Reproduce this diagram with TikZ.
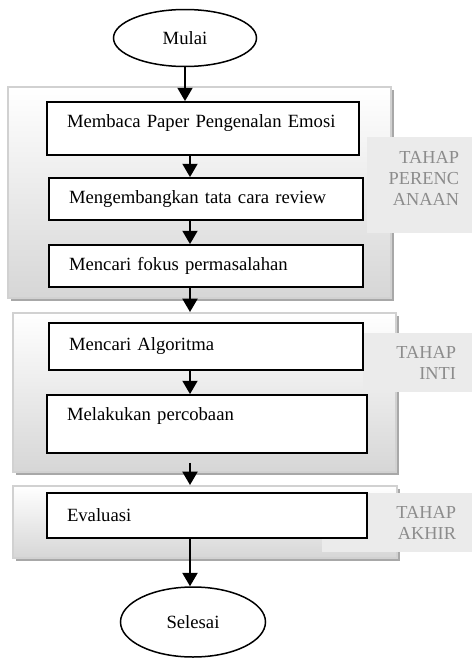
\documentclass[tikz,border=0pt]{standalone}
\usepackage{fontspec}
\setmainfont{Liberation Serif}
\usetikzlibrary{arrows.meta,shapes.geometric,shadows}
\begin{document}
\begin{tikzpicture}[x=0.6pt,y=-0.6pt,>={Triangle[width=9pt,length=8pt]},
        font=\fontsize{11.2}{13.4}\selectfont,
        tahap/.style={draw=black!18,line width=1.2pt,top color=white,bottom color=black!16,inner sep=0pt,
            drop shadow={shadow xshift=1.8pt,shadow yshift=-1.8pt,fill=black!34,opacity=1}},
        kotak/.style={draw,line width=1.1pt,fill=white,inner xsep=12pt,align=left},
        ket/.style={fill=black!8,text=black!45,align=right,inner ysep=0pt,font=\fontsize{11}{12.6}\selectfont},
        bulat/.style={draw,ellipse,line width=0.9pt,inner sep=0pt}]
                \useasboundingbox(0,0)rectangle(472,658);
                % kelompok tahap
                \node[tahap,minimum width=229.8pt,minimum height=126.6pt](g1)at(199.5,192.5){};
                \node[tahap,minimum width=229.8pt,minimum height=95.4pt](g2)at(204.5,392.5){};
                \node[tahap,minimum width=230.4pt,minimum height=43.2pt](g3)at(205,522){};
                \node[ket,text width=47.4pt,inner xsep=7.8pt,minimum height=57.6pt,text depth=33pt](t1)at(419.5,185){TAHAP\\PERENC\\ANAAN};
                \node[ket,text width=46.2pt,inner xsep=9.6pt,minimum height=35.4pt](t2)at(417.5,362.5){TAHAP\\INTI};
                \node[ket,text width=70.8pt,inner xsep=9.6pt,minimum height=35.4pt](t3)at(397,522.5){TAHAP\\AKHIR};
                % langkah
                \node[bulat,minimum width=85.8pt,minimum height=34.2pt](mulai)at(185,38){Mulai};
                \node[kotak,text width=163.2pt,minimum height=31.8pt,text depth=9pt](1)at(203,128.5){Membaca Paper Pengenalan Emosi};
                \node[kotak,text width=164.4pt,minimum height=25.2pt](2)at(206,199){Mengembangkan tata cara review};
                \node[kotak,text width=164.4pt,minimum height=25.2pt](3)at(206,266){Mencari fokus permasalahan};
                \node[kotak,text width=164.4pt,minimum height=28.2pt](4)at(206,346.5){Mencari Algoritma};
                \node[kotak,text width=168pt,minimum height=34.8pt,text depth=12pt](5)at(207,424){Melakukan percobaan};
                \node[kotak,text width=168pt,minimum height=27pt](6)at(207,515.5){Evaluasi};
                \node[bulat,minimum width=87pt,minimum height=42pt](selesai)at(193,622){Selesai};
                \coordinate(poros)at(190,0);
                \draw[->,line width=1.2pt](mulai.south)--(mulai.south|-1.north);
                \draw[->,line width=1.2pt](poros|-1.south)--(poros|-2.north);
                \draw[->,line width=1.2pt](poros|-2.south)--(poros|-3.north);
                \draw[->,line width=1.2pt](poros|-3.south)--(poros|-g2.north);
                \draw[->,line width=1.2pt](poros|-4.south)--(poros|-5.north);
                \draw[->,line width=1.2pt,shorten <=5.4pt](poros|-5.south)--(poros|-g3.north);
                \draw[->,line width=1.2pt](poros|-6.south)--(poros|-selesai.north);
            \end{tikzpicture}
\end{document}
